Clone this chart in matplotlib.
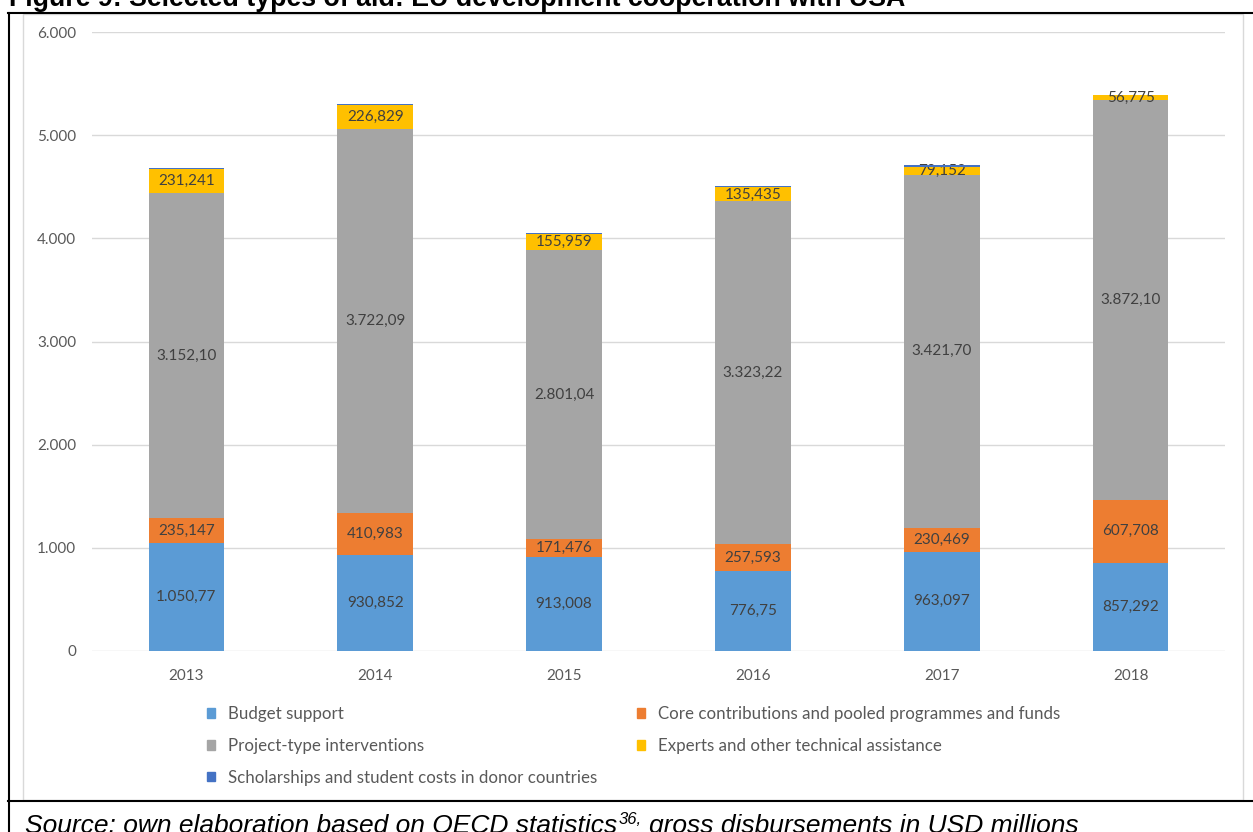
import matplotlib.pyplot as plt
from matplotlib.patches import Patch, Rectangle
from matplotlib.lines import Line2D

years = ["2013", "2014", "2015", "2016", "2017", "2018"]
budget = [1050.77, 930.852, 913.008, 776.75, 963.097, 857.292]
core = [235.147, 410.983, 171.476, 257.593, 230.469, 607.708]
project = [3152.10, 3722.09, 2801.04, 3323.22, 3421.70, 3872.10]
experts = [231.241, 226.829, 155.959, 135.435, 79.152, 56.775]
scholarships = [12, 12, 12, 12, 12, 0]

series = [
    ("Budget support", budget, "#5B9BD5", True),
    ("Core contributions and pooled programmes and funds", core, "#ED7D31", True),
    ("Project-type interventions", project, "#A5A5A5", True),
    ("Experts and other technical assistance", experts, "#FFC000", True),
    ("Scholarships and student costs in donor countries", scholarships, "#4472C4", False),
]


def fmt(v):
    # european style like the excel labels
    if v >= 1000:
        s = "{:,.2f}".format(v)
    else:
        s = "{:.3f}".format(v).rstrip("0").rstrip(".")
    return s.replace(",", "X").replace(".", ",").replace("X", ".")


def fmt_tick(v, pos):
    return "{:,.0f}".format(v).replace(",", ".")


fig = plt.figure(figsize=(12.53, 8.32), dpi=100)
ax = fig.add_axes([92 / 1253, 181 / 832, 1133 / 1253, 619 / 832])

x = range(len(years))
bottom = [0] * len(years)
handles = {}
for name, vals, col, lab in series:
    bars = ax.bar(x, vals, 0.4, bottom=bottom, color=col, linewidth=0, zorder=3)
    if lab:
        ax.bar_label(bars, labels=[fmt(v) for v in vals], label_type="center",
                     color="#404040", fontsize=11, family="Lato")
    handles[name] = Patch(color=col)
    bottom = [b + v for b, v in zip(bottom, vals)]

ax.set_xlim(-0.5, len(years) - 0.5)
ax.set_ylim(0, 6000)
ax.set_yticks(range(0, 6001, 1000))
ax.yaxis.set_major_formatter(fmt_tick)
ax.set_xticks(list(x))
ax.set_xticklabels(years)
ax.tick_params(length=0, labelsize=11, labelcolor="#595959", pad=13)
ax.tick_params(axis="y", pad=11.5)
for t in ax.get_xticklabels() + ax.get_yticklabels():
    t.set_family("Lato")
ax.grid(axis="y", color="#D9D9D9", linewidth=1, zorder=0)
for s in ax.spines.values():
    s.set_visible(False)

col1 = ["Budget support", "Project-type interventions",
        "Scholarships and student costs in donor countries"]
col2 = ["Core contributions and pooled programmes and funds",
        "Experts and other technical assistance"]
for names, xpos in [(col1, 207), (col2, 637)]:
    fig.legend([handles[n] for n in names], names, loc="upper left",
               bbox_to_anchor=(xpos / 1253, 1 - 706 / 832), frameon=False,
               prop={"family": "Lato", "size": 12.2}, labelcolor="#595959",
               handlelength=0.5, handleheight=0.5, handletextpad=0.75,
               labelspacing=0.93, borderpad=0, borderaxespad=0)

# chart area border and document table lines
fig.patches.append(Rectangle((23 / 1253, 1 - 800 / 832), 1220 / 1253, 786 / 832,
                             transform=fig.transFigure, fill=False,
                             edgecolor="#D9D9D9", linewidth=1))
fig.lines.append(Line2D([8 / 1253, 1], [1 - 13 / 832] * 2, transform=fig.transFigure,
                        color="black", linewidth=1.5))
fig.lines.append(Line2D([8 / 1253, 1], [1 - 801 / 832] * 2, transform=fig.transFigure,
                        color="black", linewidth=1.5))
fig.lines.append(Line2D([9 / 1253] * 2, [0, 1 - 13 / 832], transform=fig.transFigure,
                        color="black", linewidth=1.5))

fig.text(9 / 1253, 1 - 6 / 832, "Figure 9: Selected types of aid: EU development cooperation with USA",
         family="Liberation Sans", weight="bold", fontsize=19.3, va="baseline")

# source line with a small superscript, placed piece by piece
r = fig.canvas.get_renderer()
src_y = 1 - 833 / 832
t1 = fig.text(25 / 1253, src_y, "Source: own elaboration based on OECD statistics",
              family="Liberation Sans", style="italic", fontsize=19, va="baseline")
x1 = t1.get_window_extent(r).x1 / 1253
t2 = fig.text(x1 + 1 / 1253, src_y + 9 / 832, "36,", family="Liberation Sans",
              style="italic", fontsize=12, va="baseline")
x2 = t2.get_window_extent(r).x1 / 1253
fig.text(x2 + 8 / 1253, src_y, "gross disbursements in USD millions",
         family="Liberation Sans", style="italic", fontsize=19, va="baseline")

fig.savefig("out.png", dpi=100)
